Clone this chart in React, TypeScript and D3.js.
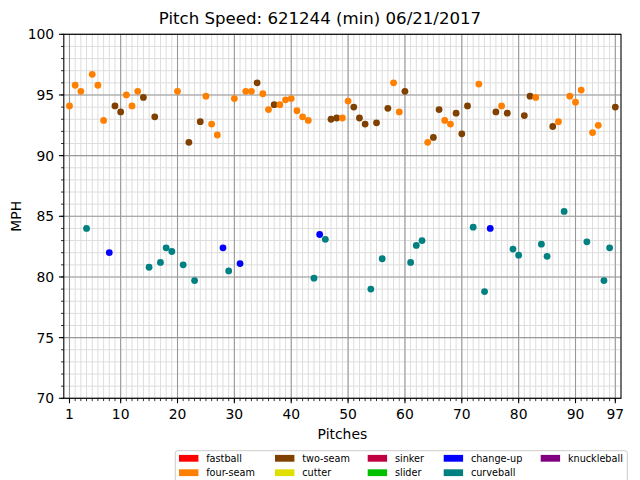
import React from "react";
import * as d3 from "d3";

const pitchTypes: string[] = [
  "F","F","F","C","F","F","F","H","T","T",
  "F","F","F","T","C","T","C","C","C","F",
  "C","T","C","T","F","F","F","H","C","F",
  "H","F","F","T","F","F","T","F","F","F",
  "F","F","F","C","H","C","T","T","F","F",
  "T","T","T","C","T","C","T","F","F","T",
  "C","C","C","F","T","T","F","F","T","T",
  "T","C","F","C","H","T","F","T","C","C",
  "T","T","F","C","C","T","F","C","F","F",
  "F","C","F","F","C","C","T",
];

const speeds: number[] = [
  94.1, 95.8, 95.3, 84.0, 96.7, 95.8, 92.9, 82.0, 94.1, 93.6,
  95.0, 94.1, 95.3, 94.8, 80.8, 93.2, 81.2, 82.4, 82.1, 95.3,
  81.0, 91.1, 79.7, 92.8, 94.9, 92.6, 91.7, 82.4, 80.5, 94.7,
  81.1, 95.3, 95.3, 96.0, 95.1, 93.8, 94.2, 94.2, 94.6, 94.7,
  93.7, 93.2, 92.9, 79.9, 83.5, 83.1, 93.0, 93.1, 93.1, 94.5,
  94.0, 93.1, 92.6, 79.0, 92.7, 81.5, 93.9, 96.0, 93.6, 95.3,
  81.2, 82.6, 83.0, 91.1, 91.5, 93.8, 92.9, 92.6, 93.5, 91.8,
  94.1, 84.1, 95.9, 78.8, 84.0, 93.6, 94.1, 93.5, 82.3, 81.8,
  93.3, 94.9, 94.8, 82.7, 81.7, 92.4, 92.8, 85.4, 94.9, 94.4,
  95.4, 82.9, 91.9, 92.5, 79.7, 82.4, 94.0,
];

const typeColors: Record<string, string> = {
  F: "#ff8000",
  T: "#804000",
  C: "#008080",
  H: "#0000ff",
};

const legendLabels: string[] = [
  "fastball", "four-seam", "two-seam", "cutter", "sinker",
  "slider", "change-up", "curveball", "knuckleball",
];
const legendColors: string[] = [
  "#ff0000", "#ff8000", "#804000", "#e0e000", "#c00040",
  "#00c000", "#0000ff", "#008080", "#800080",
];

const xTicks: number[] = [1, 10, 20, 30, 40, 50, 60, 70, 80, 90, 97];
const yTicks: number[] = [70, 75, 80, 85, 90, 95, 100];

const title = "Pitch Speed: 621244 (min) 06/21/2017";

export default function App() {
  const W = 640, H = 480;
  const left = 63.8, right = 621, top = 34.3, bottom = 398.3;
  const x = d3.scaleLinear().domain([0, 98]).range([left, right]);
  const y = d3.scaleLinear().domain([70, 100]).range([bottom, top]);
  const font = "DejaVu Sans, sans-serif";

  const minorX = d3.range(1, 98);
  const minorY = d3.range(70, 101);
  const legendX = [179, 275, 367.7, 443.7, 540.7];
  const legendRowY = [458.3, 472.7];

  return (
    <svg width={W} height={H} style={{ position: "absolute", left: 0, top: 0, background: "#fff" }} fontFamily={font}>
      <rect x={0} y={0} width={W} height={H} fill="#fff" />
      <text x={320} y={24.3} textAnchor="middle" fontSize={16.6} fill="#000">{title}</text>
      {/* minor grid */}
      {minorX.map((v) => (
        <line key={"mx" + v} x1={x(v)} x2={x(v)} y1={top} y2={bottom} stroke="#dddddd" strokeWidth={1} />
      ))}
      {minorY.map((v) => (
        <line key={"my" + v} x1={left} x2={right} y1={y(v)} y2={y(v)} stroke="#dddddd" strokeWidth={1} />
      ))}
      {/* major grid */}
      {xTicks.map((v) => (
        <line key={"gx" + v} x1={x(v)} x2={x(v)} y1={top} y2={bottom} stroke="#999999" strokeWidth={1.1} />
      ))}
      {yTicks.map((v) => (
        <line key={"gy" + v} x1={left} x2={right} y1={y(v)} y2={y(v)} stroke="#999999" strokeWidth={1.1} />
      ))}
      {/* points */}
      {speeds.map((s, i) => (
        <circle key={"p" + i} cx={x(i + 1)} cy={y(s)} r={3.4} fill={typeColors[pitchTypes[i]]} />
      ))}
      {/* axes frame */}
      <rect x={left} y={top} width={right - left} height={bottom - top} fill="none" stroke="#000" strokeWidth={1.1} />
      {/* x ticks */}
      {minorX.map((v) => (
        <line key={"tx" + v} x1={x(v)} x2={x(v)} y1={bottom} y2={bottom + 2.8} stroke="#000" strokeWidth={0.8} />
      ))}
      {xTicks.map((v) => (
        <g key={"xt" + v}>
          <line x1={x(v)} x2={x(v)} y1={bottom} y2={bottom + 4.9} stroke="#000" strokeWidth={1.1} />
          <text x={x(v)} y={418.7} textAnchor="middle" fontSize={13.9} fill="#000">{v}</text>
        </g>
      ))}
      {/* y ticks */}
      {minorY.map((v) => (
        <line key={"ty" + v} x1={left - 2.8} x2={left} y1={y(v)} y2={y(v)} stroke="#000" strokeWidth={0.8} />
      ))}
      {yTicks.map((v) => (
        <g key={"yt" + v}>
          <line x1={left - 4.9} x2={left} y1={y(v)} y2={y(v)} stroke="#000" strokeWidth={1.1} />
          <text x={left - 9.6} y={y(v)} dy="0.36em" textAnchor="end" fontSize={13.9} fill="#000">{v}</text>
        </g>
      ))}
      <text x={(left + right) / 2} y={439} textAnchor="middle" fontSize={13.9} fill="#000">Pitches</text>
      <text transform={`translate(20.5, ${(top + bottom) / 2}) rotate(-90)`} textAnchor="middle" fontSize={13.9} fill="#000">MPH</text>
      {/* legend */}
      <rect x={175.3} y={450.7} width={452} height={36} rx={2.5} fill="#fff" fillOpacity={0.8} stroke="#cccccc" strokeWidth={1} />
      {legendLabels.map((lab, i) => {
        const col = Math.floor(i / 2);
        const row = i % 2;
        const lx = legendX[col];
        const ly = legendRowY[row];
        return (
          <g key={"lg" + i}>
            <rect x={lx} y={ly - 3.4} width={19.4} height={6.8} fill={legendColors[i]} />
            <text x={lx + 27.2} y={ly} dy="0.36em" fontSize={9.7} fill="#000">{lab}</text>
          </g>
        );
      })}
    </svg>
  );
}
